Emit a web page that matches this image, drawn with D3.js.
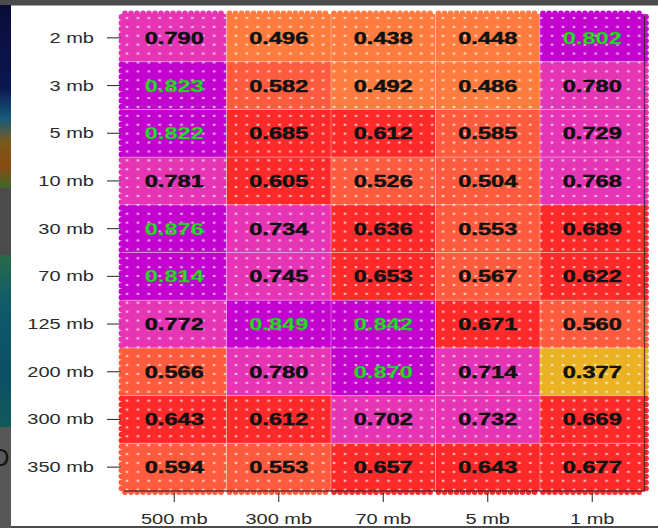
<!DOCTYPE html>
<html>
<head>
<meta charset="utf-8">
<script src="https://cdn.jsdelivr.net/npm/d3@7"></script>
<style>
  body { margin: 0; background: #ffffff; }
  svg { display: block; }
</style>
</head>
<body>
<script>
// Pressure levels (rows) and source levels (columns)
const levels = ["2 mb", "3 mb", "5 mb", "10 mb", "30 mb", "70 mb", "125 mb", "200 mb", "300 mb", "350 mb"];
const sources = ["500 mb", "300 mb", "70 mb", "5 mb", "1 mb"];

// Correlation per column, top row to bottom row
const col500 = [0.790, 0.823, 0.822, 0.781, 0.876, 0.814, 0.772, 0.566, 0.643, 0.594];
const col300 = [0.496, 0.582, 0.685, 0.605, 0.734, 0.745, 0.849, 0.780, 0.612, 0.553];
const col70  = [0.438, 0.492, 0.612, 0.526, 0.636, 0.653, 0.842, 0.870, 0.702, 0.657];
const col5   = [0.448, 0.486, 0.585, 0.504, 0.553, 0.567, 0.671, 0.714, 0.732, 0.643];
const col1   = [0.802, 0.780, 0.729, 0.768, 0.689, 0.622, 0.560, 0.377, 0.669, 0.677];

// Colour bins
const binEdges = [0.4, 0.5, 0.6, 0.7, 0.8];
const binColors = ["#ebb223", "#ff7c3e", "#ff5c3f", "#fe2a2a", "#e535b5", "#c402d0"];
const highlightAt = 0.8;

const columns = [col500, col300, col70, col5, col1];
const cells = [];
sources.forEach((s, ci) => {
  levels.forEach((l, ri) => cells.push({ src: s, lev: l, v: columns[ci][ri], ri, ci }));
});

const W = 658, H = 528;
const svg = d3.select("body").append("svg").attr("width", W).attr("height", H);

// ---- window frame around the plot ----
svg.append("rect").attr("x", 0).attr("y", 0).attr("width", W).attr("height", H).attr("fill", "#4b4b4b");
const defs = svg.append("defs");
const g1 = defs.append("linearGradient").attr("id", "stripA").attr("x1", 0).attr("x2", 0).attr("y1", 0).attr("y2", 1);
[[0, "#0a0d38"], [0.45, "#0c1650"], [0.62, "#155a7a"], [0.75, "#7a5a1c"], [0.88, "#8a4a14"], [1, "#3a6a2a"]]
  .forEach(([o, c]) => g1.append("stop").attr("offset", o).attr("stop-color", c));
const g2 = defs.append("linearGradient").attr("id", "stripB").attr("x1", 0).attr("x2", 0).attr("y1", 0).attr("y2", 1);
[[0, "#2a6a4a"], [0.3, "#0f5a6a"], [0.7, "#0d4f66"], [1, "#145a5a"]]
  .forEach(([o, c]) => g2.append("stop").attr("offset", o).attr("stop-color", c));
svg.append("rect").attr("x", 0).attr("y", 5).attr("width", 11).attr("height", 183).attr("fill", "url(#stripA)");
svg.append("rect").attr("x", 0).attr("y", 255).attr("width", 11).attr("height", 172).attr("fill", "url(#stripB)");
svg.append("rect").attr("x", 0).attr("y", 427).attr("width", 11).attr("height", 101).attr("fill", "#575757");
svg.append("text").attr("x", -8).attr("y", 466).attr("font-family", "Liberation Sans, Arial, sans-serif")
  .attr("font-size", 24).attr("fill", "#111").text("D");
svg.append("rect").attr("x", 11).attr("y", 5.5).attr("width", W - 11).attr("height", 520.5).attr("fill", "#ffffff");

// ---- scales ----
const x = d3.scaleBand().domain(sources).range([122, 644.5]);
const y = d3.scaleBand().domain(levels).range([14, 491]);
const color = d3.scaleThreshold().domain(binEdges).range(binColors);
const X0 = x.range()[0], X1 = x.range()[1], Y0 = y.range()[0], Y1 = y.range()[1];

// dot texture
const pat = defs.append("pattern").attr("id", "dots").attr("patternUnits", "userSpaceOnUse")
  .attr("width", 10.9).attr("height", 8.9).attr("x", X0 + 1).attr("y", Y0 + 1);
pat.append("ellipse").attr("cx", 4).attr("cy", 3).attr("rx", 2.0).attr("ry", 1.3).attr("fill", "#fff").attr("opacity", 0.25);
pat.append("ellipse").attr("cx", 4).attr("cy", 3).attr("rx", 1.1).attr("ry", 0.8).attr("fill", "#fff").attr("opacity", 0.95);

// ---- scalloped outer edge ----
const scallop = svg.append("g");
const step = 6, r = 2.9;
cells.forEach(d => {
  const cx0 = x(d.src), cy0 = y(d.lev), bw = x.bandwidth(), bh = y.bandwidth();
  const c = color(d.v);
  if (d.ri === 0) d3.range(cx0 + 3, cx0 + bw, step).forEach(p =>
    scallop.append("circle").attr("cx", p).attr("cy", Y0 - 0.5).attr("r", r).attr("fill", c));
  if (d.ri === levels.length - 1) d3.range(cx0 + 3, cx0 + bw, step).forEach(p =>
    scallop.append("circle").attr("cx", p).attr("cy", Y1 + 1).attr("r", r).attr("fill", c));
  if (d.ci === 0) d3.range(cy0 + 3, cy0 + bh, step).forEach(p =>
    scallop.append("circle").attr("cx", X0 - 0.5).attr("cy", p).attr("r", r).attr("fill", c));
  if (d.ci === sources.length - 1) d3.range(cy0 + 3, cy0 + bh, step).forEach(p =>
    scallop.append("circle").attr("cx", X1 + 1.5).attr("cy", p).attr("r", r).attr("fill", c));
});

// ---- cells ----
svg.append("g").selectAll("rect").data(cells).join("rect")
  .attr("x", d => x(d.src)).attr("y", d => y(d.lev))
  .attr("width", x.bandwidth()).attr("height", y.bandwidth())
  .attr("fill", d => color(d.v));
svg.append("rect").attr("x", X0).attr("y", Y0).attr("width", X1 - X0).attr("height", Y1 - Y0)
  .attr("fill", "url(#dots)");

// faint grid between cells
const grid = svg.append("g").attr("stroke", "#ffffff").attr("stroke-opacity", 0.35).attr("stroke-width", 1);
levels.slice(1).forEach(l => grid.append("line").attr("x1", X0).attr("x2", X1).attr("y1", y(l)).attr("y2", y(l)));
sources.slice(1).forEach(s => grid.append("line").attr("x1", x(s)).attr("x2", x(s)).attr("y1", Y0).attr("y2", Y1));

// dark shadow edge on right and bottom
svg.append("path").attr("d", `M${X1},${Y0 + 2}V${Y1}H${X0 + 2}`)
  .attr("fill", "none").attr("stroke", "#3a1a2a").attr("stroke-opacity", 0.75).attr("stroke-width", 1.3);

// ---- value labels ----
const sx = 1.43;
svg.append("g").selectAll("text").data(cells).join("text")
  .attr("transform", d => `translate(${x(d.src) + x.bandwidth() / 2},${y(d.lev) + y.bandwidth() / 2 + 6}) scale(${sx},1)`)
  .attr("text-anchor", "middle")
  .attr("font-family", "Liberation Sans, Arial, sans-serif")
  .attr("font-weight", "bold").attr("font-size", 16.5)
  .attr("fill", d => d.v >= highlightAt ? "#2ee02e" : "#111111")
  .attr("stroke", d => d.v >= highlightAt ? "#1f9a1f" : "#111111").attr("stroke-width", 0.45)
  .text(d => d.v.toFixed(3));

// ---- axes ----
const yAxis = svg.append("g").attr("transform", `translate(121,0)`)
  .call(d3.axisLeft(y).tickSize(14).tickSizeOuter(0));
yAxis.select(".domain").remove();
yAxis.selectAll(".tick line").attr("stroke", "#333").attr("stroke-width", 1.1);
yAxis.selectAll(".tick text")
  .attr("x", null).attr("dy", null)
  .attr("transform", `translate(-27,5) scale(${sx},1)`)
  .attr("font-family", "Liberation Sans, Arial, sans-serif").attr("font-size", 14).attr("fill", "#2a2a2a");

const xAxis = svg.append("g").attr("transform", `translate(0,493)`)
  .call(d3.axisBottom(x).tickSize(9).tickSizeOuter(0));
xAxis.select(".domain").remove();
xAxis.selectAll(".tick line").attr("stroke", "#333").attr("stroke-width", 1.1);
xAxis.selectAll(".tick text")
  .attr("y", null).attr("dy", null)
  .attr("transform", `translate(0,31) scale(${sx},1)`)
  .attr("font-family", "Liberation Sans, Arial, sans-serif").attr("font-size", 14).attr("fill", "#2a2a2a");
</script>
</body>
</html>
